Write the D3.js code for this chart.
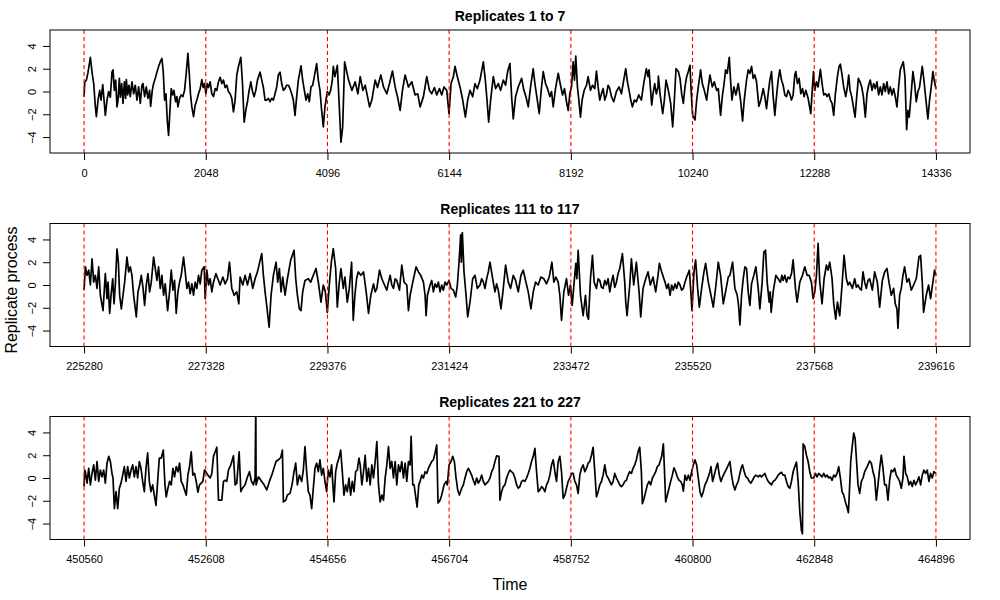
<!DOCTYPE html>
<html>
<head>
<meta charset="utf-8">
<script src="https://cdn.jsdelivr.net/npm/d3@7"></script>
<style>
    body { margin: 0; background: #ffffff; }
    #replicate_chart { width: 1000px; height: 600px; }
    text { font-family: "Liberation Sans", Arial, Helvetica, sans-serif; }
</style>
</head>
<body>
<div id="replicate_chart"></div>
<script>
// panel titles, window starts and tick labels
const panelTitles = ['Replicates 1 to 7', 'Replicates 111 to 117', 'Replicates 221 to 227'];
const panelStarts = [0, 225280, 450560];
const xTickLabels = [
    [0, 2048, 4096, 6144, 8192, 10240, 12288, 14336],
    [225280, 227328, 229376, 231424, 233472, 235520, 237568, 239616],
    [450560, 452608, 454656, 456704, 458752, 460800, 462848, 464896]
];
const yTicks = [-4, -2, 0, 2, 4];
const yLimits = [-5, 5];

// series: [time since window start, value]
const rep1to7 = [
    [0,-0.47],[11,0.85],[39,1.0],[67,1.7],[106,3.0],[134,1.7],[162,0.7],[190,-1.35],[207,-2.2],[235,-0.75],
    [263,0.1],[286,-0.75],[314,0.6],[336,-0.75],[358,-2.1],[386,-0.75],[414,0],[442,-0.5],[470,1.7],[487,1.9],
    [510,0.1],[532,1.0],[554,-1.35],[571,-0.75],[594,1.15],[610,-0.5],[633,0.7],[655,-1.05],[678,0.85],[700,-0.6],
    [711,1.05],[734,-0.3],[756,0.55],[778,-0.45],[806,0.85],[834,-0.2],[862,0.55],[890,-0.75],[918,0.4],[946,-1.05],
    [974,0.55],[991,0.7],[1019,-0.45],[1047,0.4],[1075,-0.6],[1103,0.1],[1120,-1.3],[1148,0.1],[1170,0.7],[1198,1.15],
    [1226,1.7],[1254,2.2],[1282,2.6],[1310,2.9],[1333,1.7],[1355,-0.75],[1378,-0.2],[1400,-2.5],[1422,-3.85],[1445,-1.65],
    [1467,0.25],[1490,-0.3],[1512,0.1],[1540,-0.9],[1562,-0.45],[1579,-1.35],[1607,-0.6],[1635,-0.3],[1663,-0.45],[1691,0.1],
    [1719,1.6],[1747,3.35],[1770,1.6],[1792,-0.3],[1814,-1.35],[1842,-2.2],[1870,-1.2],[1898,-0.75],[1926,-0.2],[1954,0.25],
    [1982,1.05],[2005,0.35],[2027,0.7],[2050,-0.2],[2072,0.7],[2094,0.35],[2122,0.85],[2150,-0.2],[2178,-0.45],[2206,0.25],
    [2234,0.1],[2262,0.85],[2290,1.25],[2318,0.7],[2346,1.0],[2374,0.35],[2402,0.55],[2430,0],[2458,-0.2],[2486,-0.6],
    [2514,-1.8],[2542,-0.75],[2570,1.45],[2598,2.2],[2638,3.0],[2666,0.7],[2694,-2.7],[2722,-1.65],[2750,-0.9],[2778,0.1],
    [2806,0.85],[2834,0],[2862,-0.45],[2890,0.1],[2918,1.0],[2962,1.7],[2990,1.0],[3018,0.35],[3046,-0.75],[3074,-0.75],
    [3102,-0.6],[3130,-0.9],[3158,-0.6],[3186,-0.75],[3214,-0.2],[3242,0.4],[3270,1.45],[3298,1.7],[3326,0.7],[3354,0.1],
    [3382,0.25],[3410,0.55],[3438,0.55],[3466,0.25],[3494,-0.2],[3522,-0.75],[3550,-2.1],[3578,-0.45],[3606,1.0],[3651,2.25],
    [3679,1.0],[3707,0.1],[3735,-0.75],[3763,-0.2],[3791,-0.9],[3819,0.4],[3847,0.55],[3875,1.3],[3914,2.45],[3942,1.0],
    [3970,0.1],[3998,-1.65],[4026,-3.1],[4054,-1.35],[4094,0],[4122,-0.3],[4150,0.1],[4178,1.0],[4194,2.2],[4222,1.3],
    [4262,2.3],[4290,-0.75],[4323,-4.45],[4352,-3.1],[4385,2.6],
    [4451,1.0],[4507,0.1],[4563,0.85],[4608,-0.2],[4647,1.3],[4692,0.1],[4731,0.55],[4770,-0.45],[4804,-1.35],[4843,-0.75],
    [4899,1.0],[4938,0.35],[4994,1.45],[5039,0.4],[5095,-0.2],[5140,0.7],[5190,1.8],[5235,0.4],[5274,-0.45],[5319,-1.65],
    [5358,0.1],[5403,1.45],[5459,0.4],[5515,0.85],[5571,-0.3],[5616,-0.2],[5655,-1.35],[5711,-0.45],[5767,1.3],[5812,0.1],
    [5851,-0.2],[5896,0.35],[5935,-0.3],[5980,0.25],[6019,-0.3],[6058,0.4],[6103,0.1],[6142,-1.95],[6176,0.7],[6215,1.3],
    [6243,2.2],[6282,1.3],[6327,0.4],[6372,-0.75],[6417,-2.25],[6456,-0.75],[6495,0.1],[6540,-0.45],[6579,0.7],[6618,0.25],
    [6663,1.0],[6719,2.6],[6753,1.0],[6781,-0.75],[6809,-2.7],[6842,-0.75],[6887,1.3],[6926,0.25],[6971,0.7],[7010,0.1],
    [7055,1.0],[7094,0.55],[7128,1.75],[7167,2.45],[7195,-0.45],[7223,-2.4],[7262,-0.45],[7307,0.4],[7363,1.15],[7402,0.1],
    [7436,-0.45],[7475,-1.35],[7514,0.4],[7559,2.0],[7587,0.7],[7615,-0.3],[7660,-1.95],[7693,0.1],[7727,1.75],[7766,0.7],
    [7800,0.25],[7839,-0.45],[7867,0],[7895,-1.35],[7934,0.25],[7979,1.6],[8018,0.55],[8052,-0.3],[8085,0.25],[8119,-0.9],
    [8147,-1.65],[8175,-0.2],[8203,0.4],[8231,2.6],[8253,1.0],[8275,3.1],[8303,0.4],[8332,-1.05],[8354,-2.25],[8382,-0.75],
    [8416,0.1],[8455,0.55],[8483,1.3],[8522,0.1],[8556,0.55],[8595,0.25],[8623,1.8],[8651,0.4],[8679,-0.75],[8707,-0.2],
    [8735,0.25],[8763,-0.75],[8791,-0.3],[8819,0.55],[8847,0.25],[8875,-0.45],[8914,-0.9],[8959,0],[9004,0.4],[9043,-0.2],
    [9082,1.0],[9116,2.0],[9144,0.85],[9172,0.1],[9200,-0.75],[9228,-1.35],[9261,-0.75],[9295,-0.9],[9334,-0.3],[9379,-0.75],
    [9418,0.7],[9463,2.0],[9491,1.3],[9508,1.9],[9530,0.4],[9553,-1.2],[9575,-0.2],[9603,0.7],[9631,-0.2],[9659,0.4],
    [9665,1.35],[9693,-0.2],[9738,-1.95],[9766,-0.75],[9794,1.0],[9833,0.1],[9872,-1.05],[9906,-3.1],[9934,-0.75],[9962,2.0],
    [10001,1.75],[10029,1.15],[10057,-0.2],[10085,-1.05],[10113,0.4],[10141,1.3],[10169,1.75],[10197,2.3],[10219,-0.2],[10242,-2.1],
    [10281,-2.5],[10309,-0.75],[10337,0.4],[10376,1.9],[10404,0.7],[10438,0.1],[10477,-0.75],[10505,0.4],[10533,1.45],[10572,0.4],
    [10606,0.85],[10645,0.1],[10673,0.25],[10712,-2.1],[10746,-0.2],[10768,0.55],[10796,1.9],[10824,1.6],[10858,3.0],[10880,1.0],
    [10903,-0.75],[10936,0.4],[10970,-0.3],[11009,0.7],[11048,-0.75],[11082,-2.6],[11110,-0.75],[11149,1.0],[11177,1.9],[11205,1.6],
    [11233,2.2],[11261,1.15],[11289,1.45],[11317,0.85],[11356,-1.3],[11390,-0.75],[11429,0.25],[11457,-0.45],[11485,-1.5],[11513,-0.2],
    [11541,1.0],[11569,1.75],[11597,-0.45],[11625,-2.1],[11653,-0.45],[11681,1.0],[11709,1.9],[11737,1.0],[11765,0.55],[11793,-0.3],
    [11821,-0.45],[11849,0.1],[11877,-0.2],[11905,-0.75],[11933,-0.3],[11961,1.45],[11978,1.75],[12006,0.7],[12034,1.15],[12062,-0.2],
    [12090,0.25],[12118,-0.45],[12146,0.1],[12185,-0.6],[12230,-1.95],[12258,0.4],[12275,1.75],[12297,0.1],[12325,0.85],[12353,0.4],
    [12392,1.95],[12420,0.7],[12448,-0.3],[12476,-0.2],[12504,-0.45],[12532,-0.2],[12560,-0.75],[12588,-1.05],[12616,-2.1],[12644,-0.2],
    [12678,1.3],[12706,2.2],[12728,2.4],[12756,1.45],[12784,0.4],[12818,-0.45],[12846,0.4],[12868,1.45],[12891,0.1],[12919,-0.45],
    [12947,-1.35],[12975,-2.25],[13003,-0.45],[13031,1.15],[13059,0.85],[13087,0.4],[13115,-0.45],[13148,-2.25],[13176,-0.2],[13204,0.55],
    [13232,1.0],[13260,0.1],[13288,0.7],[13316,0.25],[13344,0.85],[13372,-0.3],[13400,0.4],[13428,-0.3],[13456,0.7],[13484,0],
    [13512,0.85],[13540,-0.2],[13568,0.4],[13596,-0.3],[13624,0.25],[13652,-0.45],[13680,-1.35],[13708,0.4],[13736,1.9],[13764,2.3],
    [13787,2.6],[13815,1.3],[13843,-3.35],[13865,-1.65],[13887,-2.25],[13915,-0.45],[13949,1.75],[13977,0.7],[14005,-0.9],[14033,0],
    [14061,0.4],[14106,2.2],[14134,1.0],[14162,-0.45],[14201,-2.4],[14229,-0.75],[14257,0.4],[14285,1.75],[14307,1.0],[14336,0.25]
];

const rep111to117 = [
    [0,-0.45],[22,1.6],[50,0.85],[78,1.3],[106,0],[134,2.3],[162,0.25],[190,0.85],[218,-0.3],[246,1.6],
    [274,-0.9],[319,-2.25],[342,-0.3],[358,1.0],[386,-1.2],[403,0.25],[431,-2.5],[454,-0.9],[482,0.55],[504,-1.65],
    [526,0],[543,2.0],[554,3.15],[577,2.0],[599,-0.9],[627,-2.1],[655,-0.9],[683,0.25],[722,2.45],[750,1.15],
    [778,1.6],[806,0.85],[834,-0.9],[879,-2.8],[907,-0.6],[935,0],[963,0.85],[991,-0.2],[1019,-1.8],[1047,0],
    [1075,1.0],[1103,-0.6],[1131,0.25],[1170,2.45],[1198,1.45],[1226,0.4],[1254,1.6],[1282,-0.3],[1310,0.85],[1338,-0.9],
    [1366,0.1],[1406,-2.25],[1439,-0.6],[1467,1.3],[1495,-0.45],[1523,0.4],[1551,-2.5],[1579,-0.6],[1607,0.25],[1635,0.85],
    [1674,2.45],[1702,1.15],[1730,-0.3],[1758,0.25],[1786,-0.75],[1814,0.1],[1842,-0.9],[1870,0.25],[1898,-0.3],[1926,0.85],
    [1954,0.1],[1982,1.3],[2022,1.6],[2038,-1.2],[2066,1.3],[2094,0],[2122,0.55],[2150,-0.6],[2178,0.25],[2218,1.0],
    [2251,0.55],[2290,0],[2335,0.7],[2374,0.1],[2414,0.55],[2447,2.0],[2486,-0.3],[2526,-0.9],[2570,-0.6],[2604,-1.65],
    [2626,0.7],[2671,0],[2710,0.85],[2750,0],[2794,1.0],[2839,-0.3],[2878,0.55],[2918,1.15],[2951,1.9],[2990,2.75],
    [3018,0.85],[3046,-0.6],[3080,-2.1],[3114,-3.7],[3147,-0.9],[3186,0.85],[3231,2.0],[3259,0.25],[3287,1.45],[3315,-0.6],
    [3343,0.7],[3382,-0.9],[3422,0.55],[3478,2.2],[3534,3.05],[3562,0.55],[3590,-0.9],[3623,-2.1],[3651,-2.25],[3679,-0.6],
    [3718,0.4],[3774,0.55],[3814,0.25],[3858,0.85],[3903,1.45],[3942,0.25],[3987,-1.5],[4026,0],[4060,-0.6],[4094,-2.4],
    [4127,0],[4161,2.0],[4194,3.2],[4234,1.45],[4262,-1.95],[4295,0.25],[4323,1.45],[4362,-0.3],[4390,0.7],[4430,-1.5],
    [4463,-0.3],[4502,2.0],[4530,-3.1],[4558,-0.9],[4586,0.55],[4614,1.15],
    [4658,0.85],[4703,1.15],[4748,-0.6],[4787,-2.5],[4826,-0.9],[4871,0.1],[4899,-0.6],[4927,-0.3],[4972,1.3],[5011,0.55],
    [5056,0],[5095,-0.45],[5123,0.25],[5151,0.85],[5179,0],[5207,-0.3],[5235,0.55],[5263,0.4],[5308,-0.45],[5347,1.75],
    [5386,0.25],[5431,0],[5459,-2.25],[5487,-0.9],[5532,0.25],[5588,1.6],[5627,1.15],[5666,0.85],[5711,0.25],[5739,-0.9],
    [5756,-2.7],[5778,-0.9],[5823,0],[5851,0.4],[5879,-0.6],[5907,0.1],[5935,-0.2],[5963,0.25],[5991,-0.6],[6019,0],
    [6047,-0.45],[6075,0.25],[6103,0],[6142,0.4],[6176,-0.3],[6215,-0.45],[6254,-1.05],[6282,0],[6310,2.0],[6338,4.4],
    [6349,2.0],[6366,4.6],[6394,1.15],[6428,-0.9],[6456,-2.8],[6495,-1.5],[6540,0.55],[6579,0.85],[6618,-0.3],[6663,0],
    [6691,0.55],[6719,0.25],[6747,-0.3],[6775,0.55],[6803,1.15],[6831,2.0],[6876,0.55],[6915,-0.6],[6943,0.1],[6971,-0.45],
    [7016,-2.1],[7055,-0.3],[7094,1.75],[7139,0.25],[7178,-0.3],[7223,0.85],[7262,0.4],[7307,-0.6],[7352,0.85],[7391,1.3],
    [7436,0.25],[7475,-0.6],[7520,-2.1],[7559,-0.6],[7598,0.25],[7643,0],[7688,0.7],[7738,0.55],[7783,0.1],[7828,0.7],
    [7873,2.0],[7906,0.25],[7940,0.7],[7979,0.25],[8007,-0.9],[8035,-3.1],[8074,-0.6],[8119,0.55],[8153,-0.9],[8186,0],
    [8214,-1.8],[8248,0.25],[8276,1.9],[8293,0.55],[8315,3.05],[8354,-0.9],[8399,-2.7],[8438,-0.9],[8466,-2.7],[8489,-3.0],
    [8522,0.55],[8556,2.6],[8584,0.25],[8623,-0.3],[8651,0.55],[8679,0.4],[8707,-0.2],[8735,-0.3],[8763,0.4],[8791,0],
    [8819,0.55],[8847,-0.6],[8875,0.25],[8903,0.85],[8931,-0.2],[8959,0.25],[8987,1.0],[9015,1.45],[9060,2.75],[9099,0.25],
    [9116,-1.5],[9138,-2.7],[9183,0],[9211,2.3],[9250,0],[9295,2.0],[9340,-0.6],[9368,-2.8],[9407,-0.3],[9452,0.55],
    [9491,1.15],[9530,0],[9575,0.7],[9620,-0.6],[9659,0.85],
    [9682,1.9],[9721,1.15],[9777,0.25],[9805,-0.3],[9833,0.1],[9861,-0.9],[9889,0],[9917,-0.45],[9945,0.1],[9973,-0.3],
    [10001,0.25],[10029,0],[10057,-0.45],[10085,-0.3],[10113,0.25],[10141,0.7],[10186,1.3],[10208,-0.3],[10231,-2.25],[10264,1.15],
    [10292,2.2],[10326,-0.3],[10354,-1.95],[10393,-0.3],[10432,1.15],[10460,1.9],[10505,0.25],[10550,-0.9],[10589,-1.95],[10634,0],
    [10673,2.0],[10712,0.85],[10757,-1.65],[10796,-0.6],[10841,0.7],[10869,0.85],[10914,2.0],[10953,-0.3],[10992,-0.9],[11015,-1.8],
    [11037,-3.5],[11065,-0.9],[11093,0.55],[11121,1.6],[11149,1.45],[11177,-0.6],[11205,-1.8],[11233,0.1],[11272,0.85],[11306,1.6],
    [11345,-0.3],[11373,-2.1],[11412,0.25],[11440,2.9],[11468,3.05],[11496,0.25],[11530,-1.5],[11547,-0.6],[11563,-2.4],[11597,-0.6],
    [11642,0.85],[11681,0.55],[11720,0.25],[11743,0.85],[11765,0.4],[11793,0.85],[11821,0.25],[11849,0.7],[11877,0.55],[11905,1.0],
    [11933,2.2],[11972,-0.3],[12000,-1.5],[12045,0.25],[12090,0.85],[12129,1.6],[12168,0.85],[12202,0.85],[12241,0.25],[12269,-1.2],
    [12297,-0.6],[12325,0.85],[12353,3.65],[12381,0.25],[12420,-1.65],[12454,0.55],[12493,1.75],[12521,1.3],[12549,2.0],[12588,0.55],
    [12616,-1.65],[12650,-3.0],[12678,-1.5],[12717,-2.7],[12756,0],[12790,2.6],[12829,0.55],[12857,0],[12885,0.25],[12930,-0.3],
    [12969,0.55],[12997,-0.2],[13025,0],[13053,-0.3],[13081,-0.45],[13109,1.15],[13137,0.25],[13165,-0.3],[13193,0.4],[13221,0.55],
    [13266,-0.45],[13305,1.15],[13350,0.25],[13389,-1.95],[13434,0.4],[13473,1.15],[13512,1.45],[13546,0.25],[13585,-0.9],[13624,-0.3],
    [13652,-1.65],[13680,-2.1],[13697,-3.8],[13725,-0.9],[13753,-0.3],[13781,0.85],[13809,1.6],[13848,0.25],[13882,0.55],[13921,-0.45],
    [13960,0],[14005,0.55],[14050,2.45],[14078,2.6],[14106,0.25],[14128,-2.4],[14173,-0.9],[14212,0],[14246,-1.2],[14285,0.25],
    [14313,1.3],[14336,0.85]
];

const rep221to227 = [
    [0,-0.75],[11,0.7],[22,0.55],[50,-0.45],[78,0.85],[106,-0.6],[134,0.4],[162,1.15],[190,-0.2],[218,1.45],
    [246,-0.3],[274,0.7],[302,0.1],[330,0.7],[358,-0.45],[386,1.3],[414,1.9],[442,1.45],[470,0.4],[487,0],
    [510,-2.7],[538,-1.2],[566,-2.7],[594,-0.9],[622,-0.45],[650,0.25],[678,1.0],[706,-0.3],[734,1.0],[762,0],
    [790,0.7],[818,1.15],[846,0.1],[874,1.0],[902,0],[930,1.45],[958,0.85],[986,-0.3],[1014,-1.2],[1042,0.85],
    [1070,2.2],[1098,-0.3],[1126,-1.2],[1154,-0.6],[1182,-1.5],[1210,-2.4],[1238,-0.3],[1266,1.75],[1299,1.75],[1333,2.45],
    [1361,-0.6],[1383,-1.65],[1411,-0.9],[1439,-0.3],[1467,-0.6],[1495,0.85],[1523,0.1],[1551,1.0],[1579,0.55],[1607,1.3],
    [1635,-0.3],[1663,-0.6],[1691,-1.05],[1719,-1.5],[1747,0.25],[1775,1.0],[1803,2.3],[1831,0.25],[1859,0.4],[1887,-0.3],
    [1915,-1.25],[1943,-0.6],[1971,-0.45],[1999,-0.3],[2027,0.7],[2050,0.55],[2083,0.25],[2122,0],[2150,0.4],[2178,1.9],
    [2206,2.3],[2234,2.7],[2262,-1.95],[2318,-1.95],[2346,-0.3],[2374,-0.2],[2402,-0.3],[2430,0.7],[2470,1.15],[2514,1.95],
    [2542,-0.6],[2570,-0.45],[2610,2.3],[2638,-1.2],[2666,-0.9],[2710,-0.6],[2750,0.1],[2783,0.55],[2817,-0.3],[2850,-0.6],
    [2878,0],[2890,6.5],[2895,-0.6],[2934,0.1],[2990,-0.3],[3030,-0.6],[3074,-1.05],[3119,-0.3],[3158,0.25],[3186,0.7],
    [3231,1.45],[3270,1.6],[3310,1.8],[3338,2.45],[3354,-2.1],[3394,-1.95],[3422,-1.5],[3466,-1.35],[3500,-0.6],[3534,0.55],
    [3562,1.3],[3590,-0.6],[3623,0.25],[3662,-0.3],[3690,0.7],[3718,2.75],[3746,0.55],[3774,-1.2],[3802,-1.5],[3830,-2.7],
    [3858,-0.9],[3886,0.85],[3914,1.3],[3942,0.55],[3970,1.6],[3998,0.25],[4026,0.85],[4054,-0.3],[4082,-1.2],[4110,0.7],
    [4138,0.1],[4166,1.15],[4206,-2.1],[4234,0.55],[4262,1.3],[4290,1.75],[4318,2.45],[4346,0.55],[4374,-1.5],[4402,-0.6],
    [4430,-1.2],[4458,0],[4486,-1.5],[4514,-0.3],[4542,-1.2],[4570,0.55],[4598,0.7],[4626,1.75],
    [4647,1.15],[4675,-0.6],[4703,0.55],[4731,2.0],[4759,-0.3],[4787,0.85],[4815,-0.6],[4843,1.15],[4871,0],[4899,1.45],
    [4927,3.2],[4955,-0.6],[4983,-2.1],[5011,-1.5],[5039,-1.95],[5067,0],[5095,1.15],[5123,2.75],[5151,0.85],[5179,1.45],
    [5207,0],[5235,1.45],[5263,-0.6],[5291,1.15],[5319,0.55],[5347,1.45],[5375,0],[5403,1.3],[5431,-0.3],[5459,1.45],
    [5487,1.15],[5504,3.65],[5532,-0.6],[5554,-0.6],[5577,-1.5],[5605,-2.55],[5633,-0.6],[5655,-0.3],[5683,0.25],[5711,0],
    [5739,0.55],[5767,0.4],[5795,0.85],[5823,1.15],[5851,1.45],[5879,1.6],[5907,2.2],[5935,2.9],[5957,-2.2],[5991,-1.95],
    [6019,-1.5],[6058,-0.6],[6092,-0.3],[6114,-0.6],[6142,1.15],[6176,1.45],[6204,1.9],[6232,1.45],[6260,0],[6288,-1.05],
    [6316,-1.5],[6355,-0.9],[6383,-0.6],[6411,0],[6439,0.55],[6467,0.85],[6495,0.55],[6523,0.25],[6551,-0.2],[6579,-0.6],
    [6607,0],[6635,-0.45],[6663,-0.2],[6691,0.25],[6719,-0.3],[6747,-0.6],[6775,-0.45],[6803,-0.3],[6831,0],[6859,0.55],
    [6887,0.85],[6915,1.45],[6943,1.95],[6982,1.9],[6999,-1.95],[7027,-1.2],[7055,-0.75],[7083,-0.6],[7111,0],[7139,0.4],
    [7167,0.7],[7195,0.55],[7223,0.4],[7251,0],[7279,-0.6],[7307,-0.9],[7335,-0.75],[7363,-0.3],[7391,-0.2],[7419,-0.3],
    [7447,0],[7475,0.4],[7503,0.85],[7531,1.45],[7559,1.9],[7587,2.6],[7615,0.55],[7643,-1.2],[7671,-1.05],[7699,-0.75],
    [7727,-0.9],[7755,-1.2],[7783,-0.6],[7811,-0.3],[7839,0.25],[7867,1.15],[7895,1.6],[7923,0.55],[7951,-0.3],[7979,1.45],
    [8007,1.9],[8035,0.55],[8063,-1.8],[8091,-1.5],[8119,-0.9],[8147,-0.3],[8175,0],[8203,0.4],[8231,0.4],[8259,-0.3],
    [8287,-0.6],[8315,-1.35],[8343,0.25],[8371,0.85],[8399,1.15],[8427,0.55],[8455,0.85],[8483,1.3],[8511,1.45],[8539,2.0],
    [8567,2.7],[8595,0.55],[8623,-1.65],[8651,-1.2],[8679,-0.6],[8707,-0.3],[8735,0.25],[8763,1.15],[8791,0.25],[8819,0],
    [8847,-0.3],[8875,-0.6],[8903,-0.3],[8931,0.4],[8959,0],[8987,-0.3],[9015,-0.6],[9043,-0.75],[9071,-0.6],[9099,-0.3],
    [9127,-0.2],[9155,0.25],[9183,0.55],[9211,0.4],[9239,0.85],[9267,1.15],[9295,1.6],[9323,2.3],[9351,2.7],[9379,0.55],
    [9396,-2.25],[9424,-1.8],[9452,-1.2],[9480,-0.6],[9508,-0.3],[9536,-0.6],[9564,0],[9592,0.25],[9620,0.55],[9648,1.0],
    [9676,1.15],
    [9721,1.9],[9749,3.0],[9766,0.85],[9788,-2.1],[9816,-1.5],[9844,-0.9],[9872,-0.3],[9900,0.25],[9928,0.9],[9956,0.55],
    [9984,0.1],[10012,-0.2],[10040,-0.3],[10068,-0.6],[10085,-1.15],[10113,0.25],[10141,-0.2],[10169,0.25],[10197,-0.2],[10225,0.55],
    [10253,1.15],[10281,1.6],[10309,1.15],[10337,0],[10365,-1.2],[10393,-1.65],[10421,-1.2],[10449,-0.6],[10477,-0.3],[10505,0.1],
    [10533,0.55],[10550,1.0],[10578,-0.3],[10606,0.25],[10634,0.85],[10662,1.3],[10690,0.25],[10718,-0.3],[10746,0.1],[10774,0.4],
    [10802,0.7],[10830,1.0],[10869,1.45],[10897,0.25],[10925,-0.6],[10953,-1.05],[10981,-0.6],[11009,-0.3],[11037,0.4],[11065,1.0],
    [11082,1.15],[11110,0.55],[11138,0.1],[11166,0],[11194,-0.3],[11222,-0.45],[11250,-0.2],[11278,0.1],[11306,0.25],[11345,0.1],
    [11373,0.25],[11401,0.1],[11429,0.25],[11457,0.4],[11485,0],[11513,-0.3],[11541,-0.45],[11569,-0.6],[11597,-0.3],[11625,-0.2],
    [11653,0],[11681,0.25],[11709,0.4],[11737,0.5],[11765,0.25],[11793,0.25],[11821,-0.3],[11849,-0.75],[11877,-0.9],[11905,-0.3],
    [11933,0.55],[11961,1.0],[11989,1.4],[12017,-0.3],[12045,-2.95],[12073,-4.6],[12090,-4.9],[12101,3.0],[12129,2.75],[12157,2.0],
    [12185,1.45],[12213,0.55],[12241,0],[12280,0],[12308,0.4],[12336,0.1],[12364,0.4],[12392,0.25],[12420,0.1],[12448,0.4],
    [12476,0.1],[12504,0.25],[12532,0],[12560,0.1],[12588,-0.2],[12616,0.25],[12644,0.1],[12672,0.4],[12700,1.0],[12728,0],
    [12756,-1.2],[12784,-1.5],[12812,-2.1],[12840,-2.55],[12863,-3.05],[12885,-0.6],[12902,1.45],[12924,2.6],[12952,3.95],[12975,3.5],
    [12997,1.75],[13025,-0.6],[13053,-1.35],[13081,-0.3],[13109,0],[13137,0.55],[13165,0.85],[13193,1.15],[13221,1.5],[13249,1.3],
    [13277,0.55],[13305,0],[13333,-1.95],[13361,-0.6],[13389,0.85],[13417,2.0],[13445,0.85],[13473,-0.6],[13501,-0.6],[13529,-1.95],
    [13557,-0.2],[13585,0.7],[13613,0.55],[13641,0.85],[13669,0.25],[13697,0],[13725,-0.3],[13753,-0.9],[13781,0],[13798,1.9],
    [13826,0.4],[13854,0.1],[13882,-0.6],[13910,-0.3],[13938,-0.75],[13966,-0.2],[13994,-0.6],[14022,-0.3],[14050,0.1],[14078,-0.6],
    [14106,0.25],[14134,0.7],[14162,0.4],[14190,0.7],[14218,-0.3],[14246,0.4],[14274,0],[14302,0.55],[14336,0.4]
];

const panelSeries = [rep1to7, rep111to117, rep221to227];

class ReplicateChart {
    constructor(div_id) {
        this.div_id = div_id;
        this.width = 1000;
        this.height = 600;
        this.plotLeft = 50;
        this.plotRight = 970;
        this.panelTops = [30, 223.5, 416.5];
        this.panelHeight = 123;
        this.svg = undefined;
    }

    // R style axis range: 4% on each side
    padRange(lo, hi) {
        let pad = (hi - lo) * 0.04;
        return [lo - pad, hi + pad];
    }

    settingSvg() {
        this.svg = d3.select(`div[id='${this.div_id}']`)
            .append('svg')
            .attr('width', this.width)
            .attr('height', this.height)
            .style('display', 'block');
    }

    renderPanel(i) {
        let top = this.panelTops[i];
        let bottom = top + this.panelHeight;
        let start = panelStarts[i];
        let ticks = xTickLabels[i];

        let x = d3.scaleLinear()
            .domain(this.padRange(ticks[0], ticks[ticks.length - 1]))
            .range([this.plotLeft, this.plotRight]);
        let y = d3.scaleLinear()
            .domain(this.padRange(yLimits[0], yLimits[1]))
            .range([bottom, top]);

        let g = this.svg.append('g').attr('class', 'panel_g');

        g.append('clipPath')
            .attr('id', `clip_${i}`)
            .append('rect')
            .attr('x', this.plotLeft)
            .attr('y', top)
            .attr('width', this.plotRight - this.plotLeft)
            .attr('height', this.panelHeight);

        let line = d3.line()
            .x((d) => x(start + d[0]))
            .y((d) => y(d[1]));

        g.append('path')
            .datum(panelSeries[i])
            .attr('clip-path', `url(#clip_${i})`)
            .attr('fill', 'none')
            .attr('stroke', '#000')
            .attr('stroke-width', 1.7)
            .attr('stroke-linejoin', 'round')
            .attr('d', line);

        // block boundaries
        g.append('g')
            .attr('clip-path', `url(#clip_${i})`)
            .selectAll('line')
            .data(ticks)
            .join('line')
            .attr('x1', (d) => x(d))
            .attr('x2', (d) => x(d))
            .attr('y1', top)
            .attr('y2', bottom)
            .attr('stroke', '#ff0000')
            .attr('stroke-width', 1.1)
            .attr('stroke-dasharray', '4,3');

        g.append('rect')
            .attr('x', this.plotLeft)
            .attr('y', top)
            .attr('width', this.plotRight - this.plotLeft)
            .attr('height', this.panelHeight)
            .attr('fill', 'none')
            .attr('stroke', '#000')
            .attr('stroke-width', 1);

        let xAxis = g.append('g')
            .attr('transform', `translate(0,${bottom})`)
            .call(d3.axisBottom(x).tickValues(ticks).tickSize(7).tickPadding(9).tickFormat(d3.format('d')));
        xAxis.select('.domain').remove();
        xAxis.selectAll('text').attr('font-size', 11).attr('fill', '#000');
        xAxis.selectAll('line').attr('stroke', '#000');

        let yAxis = g.append('g')
            .attr('transform', `translate(${this.plotLeft},0)`)
            .call(d3.axisLeft(y).tickValues(yTicks).tickSize(7).tickFormat(d3.format('d')));
        yAxis.select('.domain').remove();
        yAxis.selectAll('line').attr('stroke', '#000');
        yAxis.selectAll('text')
            .attr('x', 0)
            .attr('dy', '0.35em')
            .attr('text-anchor', 'middle')
            .attr('transform', 'translate(-18,0) rotate(-90)')
            .attr('font-size', 11)
            .attr('fill', '#000');

        g.append('text')
            .attr('x', (this.plotLeft + this.plotRight) / 2)
            .attr('y', top - 9.5)
            .attr('text-anchor', 'middle')
            .attr('font-weight', 'bold')
            .attr('font-size', 14)
            .text(panelTitles[i]);
    }

    renderLabels() {
        this.svg.append('text')
            .attr('x', (this.plotLeft + this.plotRight) / 2)
            .attr('y', 590)
            .attr('text-anchor', 'middle')
            .attr('font-size', 16)
            .text('Time');

        this.svg.append('text')
            .attr('transform', 'translate(17,290) rotate(-90)')
            .attr('text-anchor', 'middle')
            .attr('font-size', 16)
            .text('Replicate process');
    }

    render() {
        this.settingSvg();
        panelTitles.forEach((t, i) => this.renderPanel(i));
        this.renderLabels();
    }
}

new ReplicateChart('replicate_chart').render();
</script>
</body>
</html>
